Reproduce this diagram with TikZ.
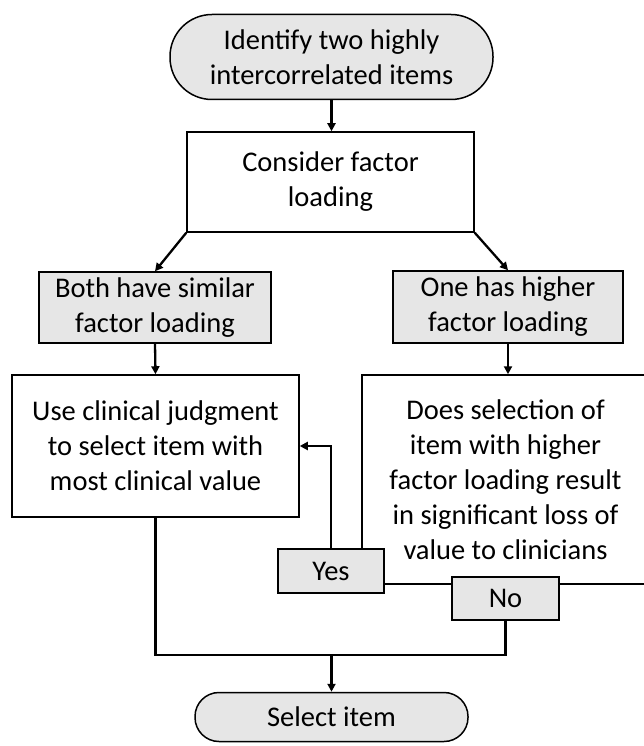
\documentclass[tikz,border=0pt]{standalone}
\usepackage{fontspec}
\setmainfont{Carlito}
\usetikzlibrary{arrows.meta}
\definecolor{boxgray}{HTML}{E6E6E6}
\tikzset{
  txt/.style={font=\fontsize{28.5}{35}\selectfont, align=center, inner sep=0pt, text=black},
  plainbox/.style={txt, draw=black, line width=1.5pt, fill=white, rectangle},
  graybox/.style={txt, draw=black, line width=1.5pt, fill=boxgray, rectangle},
  pill/.style={txt, draw=black, line width=1.5pt, fill=boxgray, rectangle},
  conn/.style={line width=2.3pt, line join=miter},
  arr/.style={conn, -{Triangle[length=8pt,width=8pt]}}
}
\begin{document}
\begin{tikzpicture}[x=1pt,y=-1pt]
\useasboundingbox (0,0) rectangle (644,746);
% terminals
\node[pill, rounded corners=42pt, minimum width=323pt, minimum height=85pt] (top) at (331.5,57) {Identify two highly\\intercorrelated items};
\node[pill, rounded corners=24pt, minimum width=273pt, minimum height=49pt] (select) at (331.5,717) {Select item};
% boxes
\node[plainbox, minimum width=287pt, minimum height=100pt] (consider) at (330.5,182) {Consider factor\\loading};
\node[graybox, minimum width=232pt, minimum height=71pt] (both) at (155,307.5) {Both have similar\\factor loading};
\node[graybox, minimum width=230pt, minimum height=72pt] (one) at (508,307) {One has higher\\factor loading};
\node[plainbox, minimum width=287pt, minimum height=142pt] (use) at (155.5,446) {Use clinical judgment\\to select item with\\most clinical value};
\node[plainbox, minimum width=287pt, minimum height=209pt] (does) at (505.5,479.5) {Does selection of\\item with higher\\factor loading result\\in significant loss of\\value to clinicians};
\node[graybox, minimum width=106pt, minimum height=44pt] (yes) at (331,571) {Yes};
\node[graybox, minimum width=107pt, minimum height=43pt] (no) at (505.5,598.5) {No};
\coordinate (join) at (331.5,655);
% connectors
\draw[arr] (top.south) -- (top.south |- consider.north);
\draw[arr] (consider.south west) -- (both.north);
\draw[arr] (consider.south east) -- (one.north);
\draw[arr] (both.south) -- (use.north);
\draw[arr] (one.south) -- (one.south |- does.north);
\draw[arr] (yes.north) |- (use.east);
\draw[conn] (use.south) |- (no.south |- join) -- (no.south);
\draw[arr] (join) -- (select.north);
\end{tikzpicture}
\end{document}
